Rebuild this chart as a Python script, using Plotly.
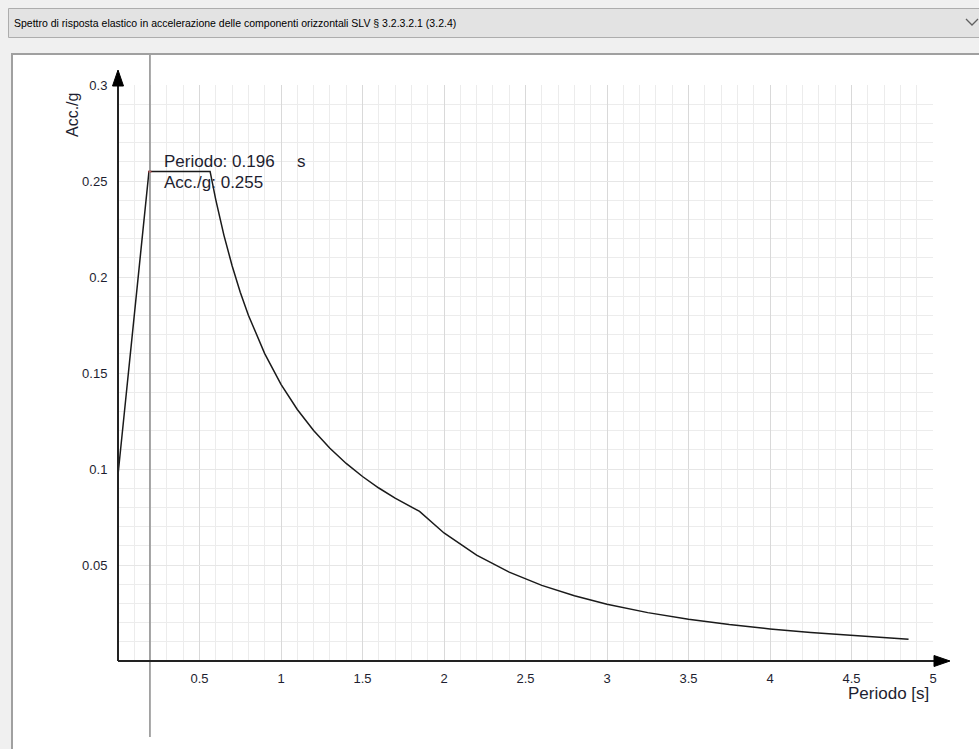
import plotly.graph_objects as go

# ---- data ----
periodo = [0.0, 0.19, 0.565, 0.6, 0.65, 0.7, 0.75, 0.8, 0.9, 1.0, 1.1, 1.2, 1.3, 1.4, 1.5,
           1.6, 1.7, 1.85, 2.0, 2.2, 2.4, 2.6, 2.8, 3.0, 3.25, 3.5, 3.75, 4.0, 4.25, 4.5, 4.85]
acc_g = [0.097, 0.255, 0.255, 0.2402, 0.2217, 0.2059, 0.1921, 0.1801, 0.1601, 0.1441, 0.1310,
         0.1201, 0.1108, 0.1029, 0.0961, 0.0901, 0.0848, 0.0779, 0.0667, 0.0551, 0.0463,
         0.0394, 0.0340, 0.0296, 0.0252, 0.0218, 0.0190, 0.0167, 0.0148, 0.0132, 0.0113]
x_ticks = [0.5, 1, 1.5, 2, 2.5, 3, 3.5, 4, 4.5, 5]
x_ticklabels = ["0.5", "1", "1.5", "2", "2.5", "3", "3.5", "4", "4.5", "5"]
y_ticks = [0.05, 0.1, 0.15, 0.2, 0.25, 0.3]
y_ticklabels = ["0.05", "0.1", "0.15", "0.2", "0.25", "0.3"]
cursor_T = 0.196
cursor_A = 0.255
title_text = "Spettro di risposta elastico in accelerazione delle componenti orizzontali SLV § 3.2.3.2.1 (3.2.4)"

W, H = 979, 749
ML, MR, MT, MB = 118, 46, 85, 88
PW, PH = W - ML - MR, H - MT - MB


def px(x):
    return (x - ML) / PW


def py(y):
    return (H - MB - y) / PH


TXT = "#1e1e30"
FONT = "Liberation Sans, Arial, sans-serif"

fig = go.Figure()
fig.add_trace(go.Scatter(x=periodo, y=acc_g, mode="lines",
                         line=dict(color="#1a1a1a", width=1.5),
                         hoverinfo="skip", showlegend=False))
fig.add_trace(go.Scatter(x=[cursor_T], y=[cursor_A], mode="markers",
                         marker=dict(color="#d02020", size=3),
                         hoverinfo="skip", showlegend=False))

shapes = []
# window background outside the panel
shapes.append(dict(type="rect", xref="paper", yref="paper", x0=px(0), x1=px(W), y0=py(0), y1=py(54),
                   fillcolor="#f0f0f0", line=dict(width=0), layer="below"))
shapes.append(dict(type="rect", xref="paper", yref="paper", x0=px(0), x1=px(11), y0=py(0), y1=py(H),
                   fillcolor="#f0f0f0", line=dict(width=0), layer="below"))
# dropdown box
shapes.append(dict(type="rect", xref="paper", yref="paper", x0=px(8.5), x1=px(990), y0=py(8.5), y1=py(37.5),
                   fillcolor="#e3e3e3", line=dict(color="#adadad", width=1)))
# chevron
shapes.append(dict(type="path", xref="paper", yref="paper",
                   path=f"M {px(966)} {py(19)} L {px(972)} {py(25)} L {px(978)} {py(19)}",
                   line=dict(color="#606060", width=1.3)))
# panel borders
shapes.append(dict(type="line", xref="paper", yref="paper", x0=px(11), x1=px(W), y0=py(54), y1=py(54),
                   line=dict(color="#a0a0a0", width=2)))
shapes.append(dict(type="line", xref="paper", yref="paper", x0=px(12), x1=px(12), y0=py(53), y1=py(H),
                   line=dict(color="#a0a0a0", width=2)))
# cursor vertical line
shapes.append(dict(type="line", xref="paper", yref="paper", x0=cursor_T / 5, x1=cursor_T / 5,
                   y0=py(55), y1=py(737), line=dict(color="#8a8a8a", width=1.5)))
# axes with arrows
shapes.append(dict(type="line", xref="paper", yref="paper", x0=0, x1=px(936), y0=0, y1=0,
                   line=dict(color="#222222", width=2)))
shapes.append(dict(type="path", xref="paper", yref="paper",
                   path=f"M {px(934)} {py(H - MB - 5.5)} L {px(950)} 0 L {px(934)} {py(H - MB + 5.5)} Z",
                   fillcolor="#000000", line=dict(color="#000000", width=1)))
shapes.append(dict(type="line", xref="paper", yref="paper", x0=0, x1=0, y0=0, y1=py(84),
                   line=dict(color="#222222", width=2)))
shapes.append(dict(type="path", xref="paper", yref="paper",
                   path=f"M {px(ML - 5.5)} {py(86)} L 0 {py(70)} L {px(ML + 5.5)} {py(86)} Z",
                   fillcolor="#000000", line=dict(color="#000000", width=1)))

annotations = [
    dict(text=title_text, xref="paper", yref="paper", x=px(12), y=py(23), xanchor="left", yanchor="middle",
         showarrow=False, font=dict(family="Liberation Sans, Arial, sans-serif", size=10.5, color="#000000")),
    dict(text="Acc./g", xref="paper", yref="paper", x=px(72), y=py(115), textangle=-90,
         xanchor="center", yanchor="middle", showarrow=False, font=dict(family=FONT, size=16, color=TXT)),
    dict(text="Periodo [s]", xref="paper", yref="paper", x=px(931), y=py(693), xanchor="right", yanchor="middle",
         showarrow=False, font=dict(family=FONT, size=17, color=TXT)),
    dict(text=f"Periodo: {cursor_T:.3f}", xref="paper", yref="paper", x=px(162), y=py(161), xanchor="left",
         yanchor="middle", showarrow=False, font=dict(family=FONT, size=17, color=TXT)),
    dict(text="s", xref="paper", yref="paper", x=px(295), y=py(161), xanchor="left",
         yanchor="middle", showarrow=False, font=dict(family=FONT, size=17, color=TXT)),
    dict(text=f"Acc./g: {cursor_A:.3f}", xref="paper", yref="paper", x=px(162), y=py(182), xanchor="left",
         yanchor="middle", showarrow=False, font=dict(family=FONT, size=17, color=TXT)),
]

fig.update_layout(
    width=W, height=H,
    margin=dict(l=ML, r=MR, t=MT, b=MB, pad=0),
    paper_bgcolor="#ffffff", plot_bgcolor="#ffffff",
    shapes=shapes, annotations=annotations, showlegend=False,
    xaxis=dict(range=[0, 5], tickvals=x_ticks, ticktext=x_ticklabels, showline=False, zeroline=False,
               showgrid=True, gridcolor="#d9d9d9", gridwidth=1,
               ticks="outside", ticklen=5, tickcolor="rgba(0,0,0,0)",
               tickfont=dict(family=FONT, size=13, color=TXT),
               minor=dict(dtick=0.1, showgrid=True, gridcolor="#ececec", gridwidth=1),
               fixedrange=True),
    yaxis=dict(range=[0, 0.3], tickvals=y_ticks, ticktext=y_ticklabels, showline=False, zeroline=False,
               showgrid=True, gridcolor="#e6e6e6", gridwidth=1,
               ticks="outside", ticklen=7, tickcolor="rgba(0,0,0,0)",
               tickfont=dict(family=FONT, size=13, color=TXT),
               minor=dict(dtick=0.01, showgrid=True, gridcolor="#ececec", gridwidth=1),
               fixedrange=True),
)

fig.write_html("out.html", config={"displayModeBar": False},
               post_script="document.body.style.margin='0';document.body.style.background='#f0f0f0';")
